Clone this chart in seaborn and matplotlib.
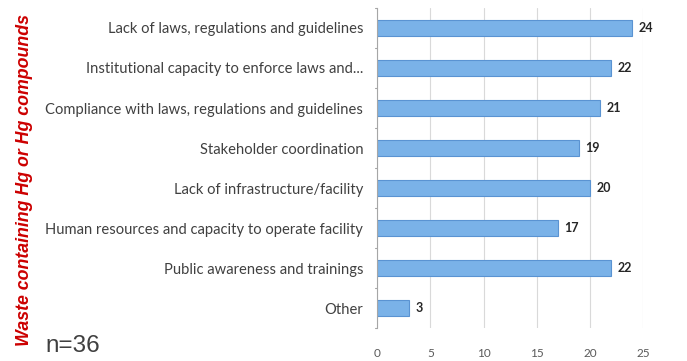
import matplotlib
matplotlib.use("Agg")
import matplotlib.pyplot as plt
import seaborn as sns
import pandas as pd

categories = [
    "Lack of laws, regulations and guidelines",
    "Institutional capacity to enforce laws and...",
    "Compliance with laws, regulations and guidelines",
    "Stakeholder coordination",
    "Lack of infrastructure/facility",
    "Human resources and capacity to operate facility",
    "Public awareness and trainings",
    "Other",
]
counts = [24, 22, 21, 19, 20, 17, 22, 3]
x_ticks = [0, 5, 10, 15, 20, 25]

df = pd.DataFrame({"category": categories, "count": counts})

sns.set_style("white")
plt.rcParams["font.family"] = ["Lato", "DejaVu Sans"]

fig = plt.figure(figsize=(6.87, 3.61), dpi=100)
ax = fig.add_axes([0.549, 0.091, 0.387, 0.887])

sns.barplot(data=df, y="category", x="count", orient="h", ax=ax,
            color="#7ab2e8", edgecolor="#5a93d2", linewidth=0.8,
            width=0.4, saturation=1)

n = len(categories)
ax.set_xlim(0, 25)
ax.set_ylim(n - 0.5, -0.5)
ax.set_xticks(x_ticks)
ax.set_xlabel("")
ax.set_ylabel("")
ax.grid(axis="x", color="#d9d9d9", linewidth=0.8)
ax.set_axisbelow(True)
for s in ["top", "right", "bottom"]:
    ax.spines[s].set_visible(False)
ax.spines["left"].set_color("#a6a6a6")
ax.spines["left"].set_linewidth(0.8)

ax.tick_params(axis="x", length=0, labelsize=8.5, labelcolor="#595959", pad=14)
ax.tick_params(axis="y", length=0, labelsize=10.6, labelcolor="#404040", pad=10)

# small tick marks between categories on the category axis
for b in [i - 0.5 for i in range(n + 1)]:
    ax.plot([-0.25, 0], [b, b], color="#a6a6a6", lw=0.8, clip_on=False)

for i, v in enumerate(counts):
    ax.text(v + 0.6, i, str(v), va="center", ha="left", fontsize=9,
            fontweight="bold", color="#262626", clip_on=False)

fig.text(0.035, 0.5, "Waste containing Hg or Hg compounds", rotation=90,
         ha="center", va="center", color="#cc0000", fontsize=12.8,
         fontweight="bold", fontstyle="italic",
         family=["Liberation Sans", "DejaVu Sans"])
fig.text(0.066, 0.012, "n=36", ha="left", va="bottom", fontsize=17.5,
         color="#404040", family=["Liberation Sans Narrow", "Liberation Sans"])

fig.savefig("out.png", dpi=100)
